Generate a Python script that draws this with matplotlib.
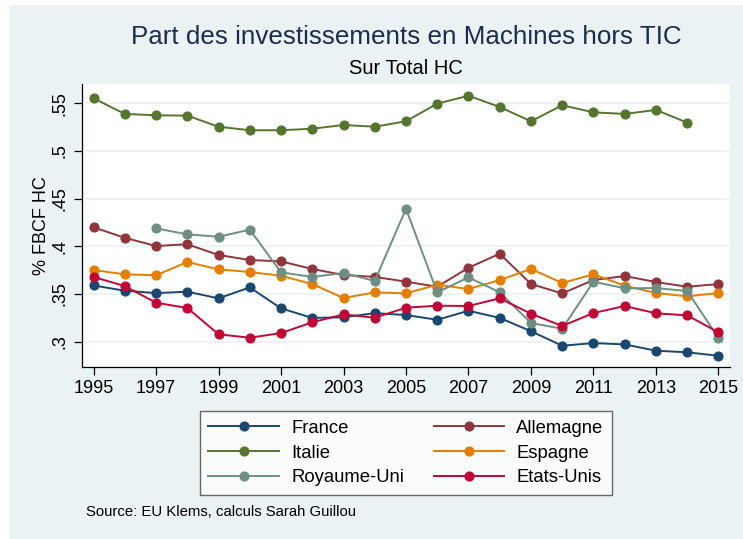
import matplotlib
matplotlib.use('Agg')
import matplotlib.pyplot as plt
from matplotlib.patches import Rectangle

plt.rcParams['font.family'] = ['Liberation Sans', 'DejaVu Sans']

years = list(range(1995, 2016))

france = [0.359, 0.3535, 0.351, 0.3525, 0.3455, 0.357, 0.335, 0.325, 0.3256, 0.330, 0.328,
          0.323, 0.3325, 0.325, 0.311, 0.2958, 0.2986, 0.2972, 0.2906, 0.2889, 0.2853]
allemagne = [0.420, 0.409, 0.4004, 0.4022, 0.391, 0.3857, 0.3843, 0.3763, 0.370, 0.368, 0.363,
             0.3577, 0.3776, 0.3923, 0.3605, 0.3507, 0.3647, 0.3689, 0.3626, 0.3577, 0.3605]
italie = [0.5553, 0.5389, 0.5375, 0.5371, 0.5255, 0.5218, 0.5218, 0.5234, 0.5273, 0.5255, 0.5312,
          0.5497, 0.558, 0.5462, 0.5312, 0.548, 0.5406, 0.5389, 0.5431, 0.5298, None]
espagne = [0.3752, 0.3707, 0.3697, 0.3836, 0.3759, 0.3731, 0.3692, 0.3605, 0.3458, 0.3518, 0.3507,
           0.3598, 0.3553, 0.3647, 0.3763, 0.3616, 0.3707, 0.3588, 0.3511, 0.3476, 0.3511]
royaume_uni = [None, None, 0.4189, 0.4126, 0.4101, 0.4175, 0.3728, 0.3679, 0.3721, 0.3637, 0.4395,
               0.3518, 0.3675, 0.3518, 0.3196, 0.3136, 0.363, 0.356, 0.3563, 0.3532, 0.3039]
etats_unis = [0.3679, 0.3584, 0.3409, 0.3354, 0.3078, 0.3042, 0.3091, 0.3204, 0.3287, 0.3252, 0.3357,
              0.3378, 0.3375, 0.3455, 0.3294, 0.3165, 0.3301, 0.3375, 0.3298, 0.3277, 0.3099]

series = [
    ("France", france, "#1a476f"),
    ("Allemagne", allemagne, "#90353b"),
    ("Italie", italie, "#55752f"),
    ("Espagne", espagne, "#e37e00"),
    ("Royaume-Uni", royaume_uni, "#6e8e84"),
    ("Etats-Unis", etats_unis, "#c10534"),
]

y_ticks = [0.3, 0.35, 0.4, 0.45, 0.5, 0.55]
y_ticklabels = [".3", ".35", ".4", ".45", ".5", ".55"]
x_ticks = list(range(1995, 2016, 2))

bg = "#eaf2f3"
fig = plt.figure(figsize=(7.43, 5.39), dpi=100)
fig.patch.set_facecolor("white")
fig.patches.append(Rectangle((9 / 743, 0), 1, 1 - 5 / 539, transform=fig.transFigure,
                             facecolor=bg, edgecolor="none", zorder=-10))

ax = fig.add_axes([82 / 743, 1 - 367 / 539, (730 - 82) / 743, (367 - 84) / 539])
ax.set_facecolor("white")

handles = {}
for name, vals, col in series:
    xs = [y for y, v in zip(years, vals) if v is not None]
    vs = [v for v in vals if v is not None]
    h, = ax.plot(xs, vs, color=col, lw=1.4, marker="o", markersize=6.3,
                 markeredgecolor=col, label=name, zorder=3)
    handles[name] = h

ax.set_xlim(1994.63, 2015.37)
ax.set_ylim(0.2735, 0.5703)
ax.set_yticks(y_ticks)
ax.set_yticklabels(y_ticklabels, rotation=90, va="center", fontsize=13)
ax.set_xticks(x_ticks)
ax.set_xticklabels([str(x) for x in x_ticks], fontsize=13)
ax.tick_params(axis="both", direction="out", length=6, width=0.9, color="black")
ax.tick_params(axis="y", pad=4)
ax.yaxis.grid(True, color=bg, lw=1.3, zorder=0)
ax.set_axisbelow(True)
for s in ["top", "right"]:
    ax.spines[s].set_visible(False)
for s in ["left", "bottom"]:
    ax.spines[s].set_linewidth(0.9)

ax.set_ylabel("% FBCF HC", fontsize=13, labelpad=1)

fig.text(406 / 743, 1 - 37 / 539, "Part des investissements en Machines hors TIC",
         ha="center", va="center", fontsize=18.75, color="#1e2b50")
fig.text(406 / 743, 1 - 68 / 539, "Sur Total HC", ha="center", va="center",
         fontsize=14.5, color="black")

order = ["France", "Italie", "Royaume-Uni", "Allemagne", "Espagne", "Etats-Unis"]
leg = fig.legend([handles[n] for n in order], order, ncol=2, loc="center",
                 bbox_to_anchor=(406 / 743, 1 - 453 / 539), fontsize=13.3,
                 frameon=True, fancybox=False, edgecolor="#444444",
                 handlelength=3.8, columnspacing=1.6, labelspacing=0.42,
                 borderpad=0.45, handletextpad=0.68, borderaxespad=0)
leg.get_frame().set_linewidth(1.0)
leg.get_frame().set_facecolor("white")

fig.text(86 / 743, 1 - 512 / 539, "Source: EU Klems, calculs Sarah Guillou",
         ha="left", va="center", fontsize=10.7)

fig.savefig("out.png", dpi=100, facecolor=fig.get_facecolor())
plt.close("all")
